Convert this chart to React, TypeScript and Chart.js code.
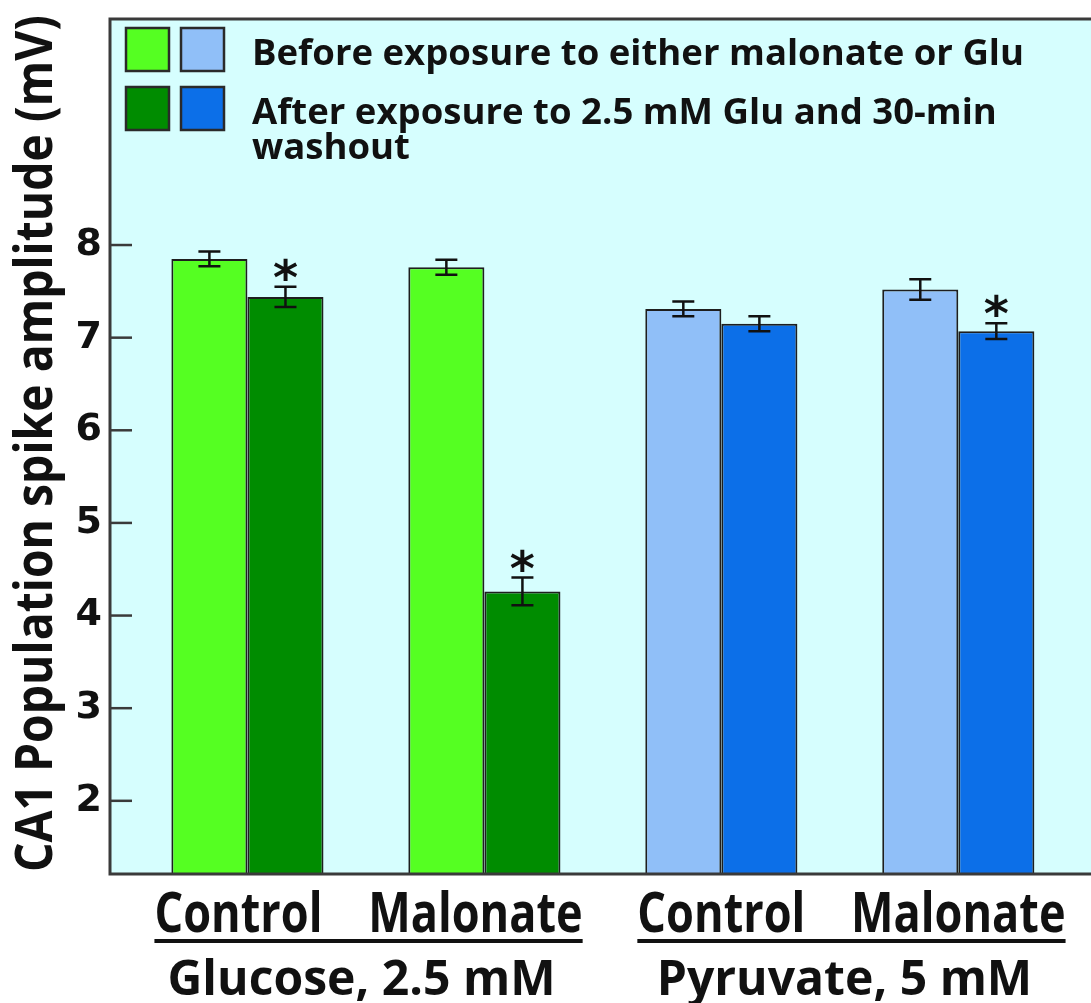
import React, { useEffect, useRef } from 'react';
import { Chart, registerables } from 'chart.js';

Chart.register(...registerables);

// ---- data ----
const categories = ['Control', 'Malonate', 'Control', 'Malonate'];
const groupLabels = ['Glucose, 2.5 mM', 'Pyruvate, 5 mM'];
const groupOf = [0, 0, 1, 1];
const beforeValues = [7.85, 7.76, 7.31, 7.52];
const beforeErrors = [0.08, 0.08, 0.08, 0.11];
const afterValues = [7.44, 4.26, 7.15, 7.07];
const afterErrors = [0.11, 0.15, 0.08, 0.085];
const afterSignificant = [true, true, false, true];
const yTicks = [2, 3, 4, 5, 6, 7, 8];
const yTitle = 'CA1 Population spike amplitude (mV)';
const legendLines = [
  ['Before exposure to either malonate or Glu'],
  ['After exposure to 2.5 mM Glu and 30-min', 'washout'],
];
const beforeColors = ['#55ff22', '#55ff22', '#90bff8', '#90bff8'];
const afterColors = ['#008c00', '#008c00', '#0c6fe8', '#0c6fe8'];

const BG = '#d6fefe';
const FRAME = '#3a3a3a';
const INK = '#111111';

function fitText(ctx: CanvasRenderingContext2D, text: string, x: number, y: number, sx: number, align: CanvasTextAlign) {
  ctx.save();
  ctx.translate(x, y);
  ctx.scale(sx, 1);
  ctx.textAlign = align;
  ctx.textBaseline = 'alphabetic';
  ctx.fillText(text, 0, 0);
  ctx.restore();
}

const decorPlugin = {
  id: 'decor',
  beforeDraw(chart: any) {
    const { ctx, chartArea: a, width, height } = chart;
    ctx.save();
    ctx.fillStyle = '#ffffff';
    ctx.fillRect(0, 0, width, height);
    ctx.fillStyle = BG;
    ctx.fillRect(a.left, a.top, a.right - a.left, a.bottom - a.top);
    ctx.restore();
  },
  afterDatasetsDraw(chart: any) {
    const { ctx, chartArea: a } = chart;
    const yScale = chart.scales.y;
    const errs = [beforeErrors, afterErrors];
    ctx.save();
    ctx.strokeStyle = INK;
    ctx.lineWidth = 2.5;
    chart.data.datasets.forEach((ds: any, di: number) => {
      const meta = chart.getDatasetMeta(di);
      meta.data.forEach((bar: any, i: number) => {
        const v = ds.data[i].y;
        const e = errs[di][i];
        const yTop = yScale.getPixelForValue(v + e);
        const yBot = yScale.getPixelForValue(v - e);
        ctx.beginPath();
        ctx.moveTo(bar.x, yTop);
        ctx.lineTo(bar.x, yBot);
        ctx.moveTo(bar.x - 11, yTop);
        ctx.lineTo(bar.x + 11, yTop);
        ctx.moveTo(bar.x - 11, yBot);
        ctx.lineTo(bar.x + 11, yBot);
        ctx.stroke();
        if (di === 1 && afterSignificant[i]) {
          ctx.fillStyle = INK;
          ctx.font = 'bold 48px "DejaVu Sans"';
          ctx.textAlign = 'center';
          ctx.textBaseline = 'alphabetic';
          ctx.fillText('*', bar.x, yTop - 18 + 25);
        }
      });
    });
    ctx.strokeStyle = FRAME;
    ctx.lineWidth = 2.5;
    yTicks.forEach((t) => {
      const y = yScale.getPixelForValue(t);
      ctx.beginPath();
      ctx.moveTo(a.left, y);
      ctx.lineTo(a.left + 22, y);
      ctx.stroke();
    });
    ctx.lineWidth = 3;
    ctx.beginPath();
    ctx.moveTo(chart.width, a.top);
    ctx.lineTo(a.left, a.top);
    ctx.lineTo(a.left, a.bottom);
    ctx.lineTo(chart.width, a.bottom);
    ctx.stroke();
    ctx.restore();
  },
  afterDraw(chart: any) {
    const { ctx, chartArea: a } = chart;
    const xScale = chart.scales.x;
    ctx.save();
    // y-axis title (condensed, rotated)
    ctx.fillStyle = INK;
    ctx.font = 'bold 52px "Open Sans"';
    const tSx = 857 / ctx.measureText(yTitle).width;
    ctx.save();
    ctx.translate(52, (a.top + a.bottom) / 2 - 3);
    ctx.rotate(-Math.PI / 2);
    ctx.scale(tSx, 1);
    ctx.textAlign = 'center';
    ctx.textBaseline = 'alphabetic';
    ctx.fillText(yTitle, 0, 0);
    ctx.restore();
    // legend
    const sq = 43;
    const colorsByRow = [
      [beforeColors[0], beforeColors[2]],
      [afterColors[0], afterColors[2]],
    ];
    ctx.font = 'bold 36px "Open Sans"';
    const legendSx = 772 / ctx.measureText(legendLines[0][0]).width;
    legendLines.forEach((lines, r) => {
      const top = a.top + 9 + r * 59;
      colorsByRow[r].forEach((c, k) => {
        const x = a.left + 16 + k * 55;
        ctx.fillStyle = c;
        ctx.fillRect(x, top, sq, sq);
        ctx.strokeStyle = '#2a2a2a';
        ctx.lineWidth = 2.5;
        ctx.strokeRect(x, top, sq, sq);
      });
      ctx.fillStyle = INK;
      lines.forEach((ln, j) => {
        fitText(ctx, ln, a.left + 142, top + 37 + j * 35, legendSx, 'left');
      });
    });
    // x labels
    ctx.fillStyle = INK;
    ctx.font = 'bold 56px "Open Sans"';
    const sx1 = 168 / ctx.measureText('Control').width;
    const shift = [-9, 0];
    const extents: number[][] = [[], []];
    categories.forEach((c, i) => {
      const cx = xScale.getPixelForValue(i) + shift[groupOf[i]];
      fitText(ctx, c, cx, a.bottom + 58, sx1, 'center');
      const w = ctx.measureText(c).width * sx1;
      extents[groupOf[i]].push(cx - w / 2, cx + w / 2);
    });
    ctx.font = 'bold 49px "Open Sans"';
    const sx2 = 388 / ctx.measureText(groupLabels[0]).width;
    groupLabels.forEach((g, gi) => {
      const l = Math.min(...extents[gi]);
      const r = Math.max(...extents[gi]);
      ctx.fillRect(l, a.bottom + 65, r - l, 4);
      fitText(ctx, g, (l + r) / 2 - 7, a.bottom + 121, sx2, 'center');
    });
    ctx.restore();
  },
};

export default function App() {
  const ref = useRef<HTMLCanvasElement | null>(null);
  useEffect(() => {
    if (!ref.current) return;
    const chart = new Chart(ref.current, {
      type: 'bar',
      data: {
        datasets: [
          {
            label: 'Before exposure to either malonate or Glu',
            data: categories.map((_, i) => ({ x: i, y: beforeValues[i] })),
            backgroundColor: beforeColors,
            borderColor: '#1e1e1e',
            borderWidth: 2,
            borderSkipped: false,
            categoryPercentage: 0.642,
            barPercentage: 1,
          },
          {
            label: 'After exposure to 2.5 mM Glu and 30-min washout',
            data: categories.map((_, i) => ({ x: i, y: afterValues[i] })),
            backgroundColor: afterColors,
            borderColor: '#1e1e1e',
            borderWidth: 2,
            borderSkipped: false,
            categoryPercentage: 0.642,
            barPercentage: 1,
          },
        ],
      },
      options: {
        animation: false,
        responsive: false,
        maintainAspectRatio: false,
        layout: { padding: { top: 19, right: 0, bottom: 129, left: 0 } },
        plugins: { legend: { display: false }, tooltip: { enabled: false } },
        scales: {
          x: {
            type: 'linear',
            min: -0.58,
            max: 3.56,
            offset: false,
            display: false,
            afterBuildTicks: (s: any) => {
              s.ticks = categories.map((_, i) => ({ value: i }));
            },
          },
          y: {
            min: 1.21,
            max: 10.44,
            afterBuildTicks: (s: any) => {
              s.ticks = yTicks.map((v) => ({ value: v }));
            },
            afterFit: (s: any) => {
              s.width = 110;
              s.paddingTop = 0;
              s.paddingBottom = 0;
            },
            grid: { display: false, drawTicks: false },
            border: { display: false },
            ticks: {
              color: INK,
              padding: 8,
              font: { family: '"DejaVu Sans"', size: 38, weight: 'bold' },
            },
            title: { display: false },
          },
        },
      },
      plugins: [decorPlugin],
    } as any);
    return () => chart.destroy();
  }, []);
  return (
    <div style={{ position: 'fixed', left: 0, top: 0, width: 1091, height: 1003, background: '#fff' }}>
      <canvas ref={ref} width={1091} height={1003} style={{ width: 1091, height: 1003, display: 'block' }} />
    </div>
  );
}
